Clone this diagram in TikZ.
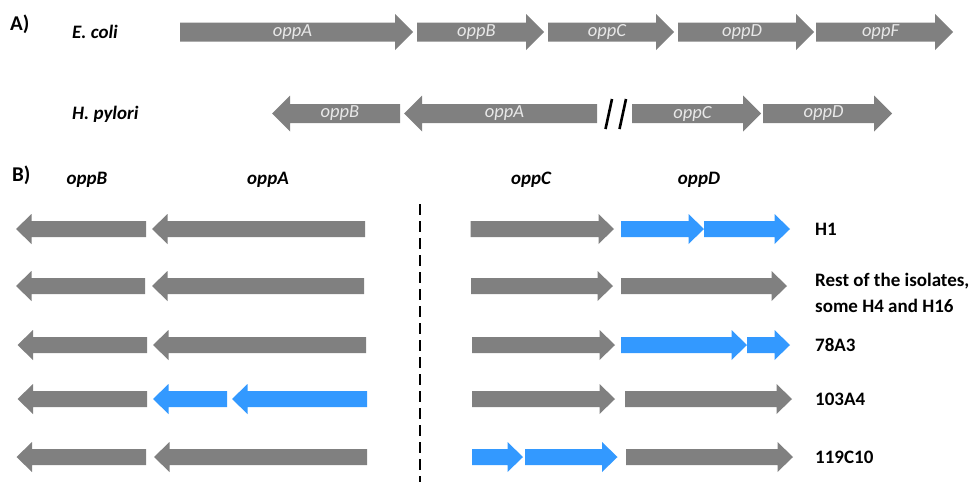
\documentclass[tikz,border=0pt]{standalone}
\usepackage{fontspec}
\setmainfont{Carlito}

\definecolor{genegray}{RGB}{128,128,128}
\definecolor{geneblue}{RGB}{51,153,255}
\definecolor{genetext}{RGB}{232,232,232}

% gene drawn as a block arrow pointing right: left end, tip, centre y, fill
\newcommand{\geneR}[4]{%
  \fill[#4] (#1,#3-\bh) -- (#2-\hl,#3-\bh) -- (#2-\hl,#3-\hh) -- (#2,#3)
    -- (#2-\hl,#3+\hh) -- (#2-\hl,#3+\bh) -- (#1,#3+\bh) -- cycle;}
% gene drawn as a block arrow pointing left: tip, right end, centre y, fill
\newcommand{\geneL}[4]{%
  \fill[#4] (#2,#3-\bh) -- (#1+\hl,#3-\bh) -- (#1+\hl,#3-\hh) -- (#1,#3)
    -- (#1+\hl,#3+\hh) -- (#1+\hl,#3+\bh) -- (#2,#3+\bh) -- cycle;}

\tikzset{
  genelabel/.style={text=genetext, inner sep=0pt,
    font=\fontsize{18.5}{20}\selectfont\itshape},
  species/.style={anchor=base west, inner sep=0pt,
    font=\fontsize{19}{22}\selectfont\bfseries\itshape},
  header/.style={anchor=base, inner sep=0pt,
    font=\fontsize{19}{22}\selectfont\bfseries\itshape},
  panel/.style={anchor=base west, inner sep=0pt,
    font=\fontsize{21}{24}\selectfont\bfseries},
  isolate/.style={anchor=west, inner sep=0pt, align=left,
    font=\fontsize{19}{26}\selectfont\bfseries},
  divider/.style={draw=black, line width=1.3pt, dash pattern=on 11pt off 6pt},
  breakmark/.style={draw=black, line width=2.6pt},
}

\begin{document}
\begin{tikzpicture}[x=1pt, y=-1pt]
\useasboundingbox (0,0) rectangle (973,482);

% ---------------- Panel A: operon organisation ----------------
\node[panel] (panA) at (10,30) {A)};
\node[species] (ecoli) at (72,38) {E. coli};
\node[species] (hpylori) at (72,119) {H. pylori};

\def\bh{9.5}\def\hh{18}\def\hl{18}
% E. coli
\geneR{180}{413}{32}{genegray}
\geneR{417}{544}{32}{genegray}
\geneR{548}{674}{32}{genegray}
\geneR{678}{814}{32}{genegray}
\geneR{816}{953}{32}{genegray}
\node[genelabel] (ecA) at (292.5,32) {oppA};
\node[genelabel] (ecB) at (476.5,32) {oppB};
\node[genelabel] (ecC) at (607,32) {oppC};
\node[genelabel] (ecD) at (742,32) {oppD};
\node[genelabel] (ecF) at (880.5,32) {oppF};

% H. pylori
\geneL{272}{400}{113.5}{genegray}
\geneL{404}{597}{113.5}{genegray}
\geneR{632}{761}{113.5}{genegray}
\geneR{763}{892}{113.5}{genegray}
\node[genelabel] (hpB) at (340,113.5) {oppB};
\node[genelabel] (hpA) at (504.5,113.5) {oppA};
\node[genelabel] (hpC) at (692.5,113.5) {oppC};
\node[genelabel] (hpD) at (823.5,113.5) {oppD};

% break between the two loci
\coordinate (s1a) at (612,99);  \coordinate (s1b) at (605.5,129);
\coordinate (s2a) at (626,99);  \coordinate (s2b) at (619.5,129);
\draw[breakmark] (s1a) -- (s1b);
\draw[breakmark] (s2a) -- (s2b);

% ---------------- Panel B: variants among isolates ----------------
\node[panel] (panB) at (12,181) {B)};
\node[header] (hB) at (87,184) {oppB};
\node[header] (hA) at (268,184) {oppA};
\node[header] (hC) at (531,184) {oppC};
\node[header] (hD) at (699,184) {oppD};

\coordinate (dtop) at (420,204);
\coordinate (dbot) at (420,482);
\draw[divider] (dtop) -- (dbot);

\def\bh{8}\def\hh{15}\def\hl{15.5}
% H1
\geneL{16}{146}{229}{genegray}
\geneL{152}{365}{229}{genegray}
\geneR{470.5}{614}{229}{genegray}
\geneR{621}{704}{229}{geneblue}
\geneR{704}{790}{229}{geneblue}
\node[isolate] (iH1) at (815,229) {H1};

% rest of the isolates
\geneL{16}{145}{286}{genegray}
\geneL{152}{364}{286}{genegray}
\geneR{471}{613}{286}{genegray}
\geneR{621}{787}{286}{genegray}
\node[isolate] (iRest) at (815,292.5) {Rest of the isolates,\\some H4 and H16};

% 78A3
\geneL{17.5}{147}{345}{genegray}
\geneL{153}{366}{345}{genegray}
\geneR{472}{615}{345}{genegray}
\geneR{621}{747}{345}{geneblue}
\geneR{747}{790}{345}{geneblue}
\node[isolate] (i78) at (815,345) {78A3};

% 103A4
\geneL{17.5}{147}{399}{genegray}
\geneL{153}{227}{399}{geneblue}
\geneL{232}{367}{399}{geneblue}
\geneR{472}{615}{399}{genegray}
\geneR{625}{792}{399}{genegray}
\node[isolate] (i103) at (815,399) {103A4};

% 119C10
\geneL{16.5}{146}{457}{genegray}
\geneL{154}{367}{457}{genegray}
\geneR{472}{523}{457}{geneblue}
\geneR{525}{617.5}{457}{geneblue}
\geneR{626}{793}{457}{genegray}
\node[isolate] (i119) at (815,457) {119C10};

\end{tikzpicture}
\end{document}
